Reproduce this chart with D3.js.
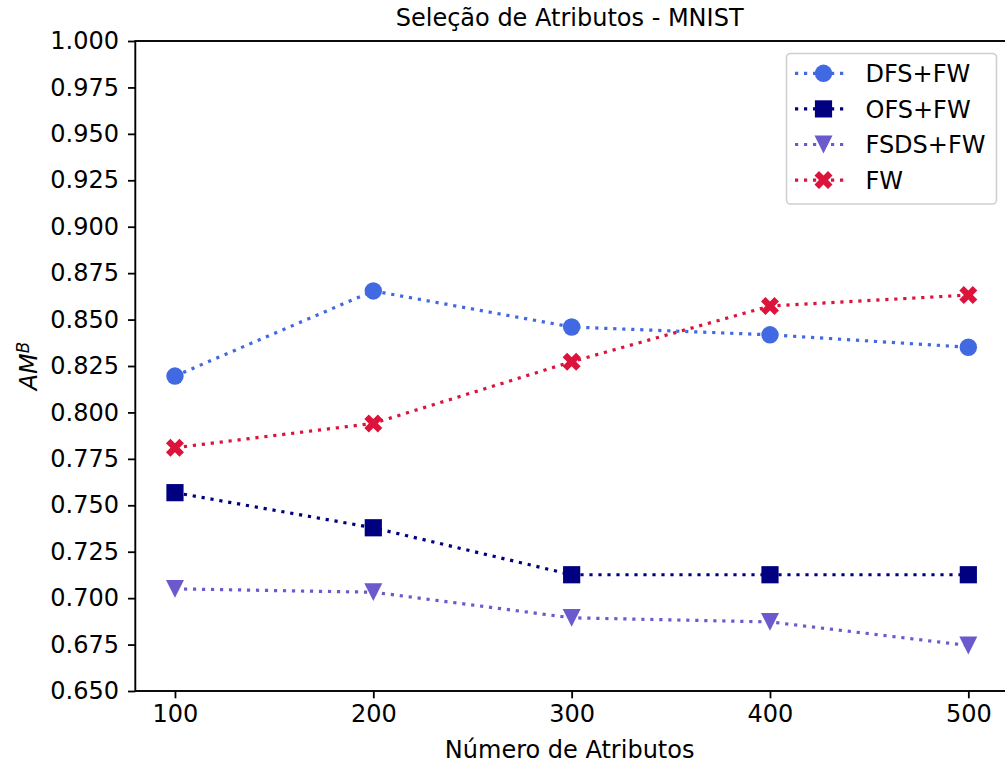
<!DOCTYPE html>
<html>
<head>
<meta charset="utf-8">
<script src="https://cdn.jsdelivr.net/npm/d3@7"></script>
<style>
  html, body { margin: 0; padding: 0; background: #fff; }
  svg { display: block; font-family: "DejaVu Sans", sans-serif; }
</style>
</head>
<body>
<svg id="chart" width="1005" height="769"></svg>
<script>
// Number of selected attributes
const features = [100, 200, 300, 400, 500];
const xTicks = [100, 200, 300, 400, 500];
const yTicks = [0.650, 0.675, 0.700, 0.725, 0.750, 0.775, 0.800, 0.825, 0.850, 0.875, 0.900, 0.925, 0.950, 0.975, 1.000];

// AM^B per method
const dfsFw  = [0.8196, 0.8654, 0.8460, 0.8418, 0.8351];
const ofsFw  = [0.7568, 0.7379, 0.7126, 0.7126, 0.7126];
const fsdsFw = [0.7050, 0.7032, 0.6894, 0.6872, 0.6745];
const fw     = [0.7810, 0.7941, 0.8273, 0.8573, 0.8632];

const seriesNames = ["DFS+FW", "OFS+FW", "FSDS+FW", "FW"];
const seriesColors = ["#4169e1", "#000080", "#6a5acd", "#dc143c"];
const seriesShapes = ["circle", "square", "triangleDown", "x"];
const seriesValues = [dfsFw, ofsFw, fsdsFw, fw];

const svg = d3.select("#chart");
const plot = { left: 135.3, right: 1008, top: 41, bottom: 691 };

const x = d3.scaleLinear().domain([80, 520]).range([plot.left, plot.right]);
const y = d3.scaleLinear().domain([0.65, 1.0]).range([plot.bottom, plot.top]);

const FONT = 24;

// marker paths centred on the origin
function markerPath(shape) {
  if (shape === "circle") return d3.symbol(d3.symbolCircle, Math.PI * 8.7 * 8.7)();
  if (shape === "square") { const h = 8.6; return `M${-h},${-h}H${h}V${h}H${-h}Z`; }
  if (shape === "triangleDown") { const w = 9, hh = 8.9; return `M0,${hh}L${-w},${-hh}L${w},${-hh}Z`; }
  // filled "X"
  const a = 9, t = a / 2;
  const pts = [[-t, -a], [0, -t], [t, -a], [a, -t], [t, 0], [a, t],
               [t, a], [0, t], [-t, a], [-a, t], [-t, 0], [-a, -t]];
  return "M" + pts.map(p => p.join(",")).join("L") + "Z";
}

// axes
const yAxis = d3.axisLeft(y).tickValues(yTicks).tickFormat(d3.format(".3f")).tickSize(7.3).tickPadding(9);
const xAxis = d3.axisBottom(x).tickValues(xTicks).tickFormat(d3.format("d")).tickSize(7.3).tickPadding(7);

const gy = svg.append("g").attr("transform", `translate(${plot.left},0)`).call(yAxis);
const gx = svg.append("g").attr("transform", `translate(0,${plot.bottom})`).call(xAxis);
[gx, gy].forEach(g => {
  g.select(".domain").remove();
  g.selectAll(".tick line").attr("stroke", "#000").attr("stroke-width", 1.8);
  g.selectAll(".tick text").attr("fill", "#000").style("font-size", FONT + "px").style("font-family", "DejaVu Sans");
});

// frame
svg.append("rect")
  .attr("x", plot.left).attr("y", plot.top)
  .attr("width", plot.right - plot.left).attr("height", plot.bottom - plot.top)
  .attr("fill", "none").attr("stroke", "#000").attr("stroke-width", 1.9);

// series
const line = d3.line().x((d, i) => x(features[i])).y(d => y(d));
seriesValues.forEach((vals, s) => {
  const g = svg.append("g");
  g.append("path").datum(vals)
    .attr("d", line)
    .attr("fill", "none")
    .attr("stroke", seriesColors[s])
    .attr("stroke-width", 3.2)
    .attr("stroke-dasharray", "3.2,5.8");
  g.selectAll("path.mk").data(vals).join("path")
    .attr("class", "mk")
    .attr("transform", (d, i) => `translate(${x(features[i])},${y(d)})`)
    .attr("d", markerPath(seriesShapes[s]))
    .attr("fill", seriesColors[s]);
});

// legend
const lg = svg.append("g");
lg.append("rect")
  .attr("x", 786.5).attr("y", 53.5).attr("width", 210).attr("height", 150.5)
  .attr("rx", 4).attr("fill", "#fff").attr("fill-opacity", 0.8)
  .attr("stroke", "#d0d0d0").attr("stroke-width", 1.6);
seriesNames.forEach((name, s) => {
  const cy = 73.3 + s * 35.6;
  lg.append("line")
    .attr("x1", 795).attr("x2", 846).attr("y1", cy).attr("y2", cy)
    .attr("stroke", seriesColors[s]).attr("stroke-width", 3.2)
    .attr("stroke-dasharray", "3.2,5.8");
  lg.append("path")
    .attr("transform", `translate(823.5,${cy})`)
    .attr("d", markerPath(seriesShapes[s]))
    .attr("fill", seriesColors[s]);
  lg.append("text")
    .attr("x", 865.5).attr("y", cy).attr("dy", "0.36em")
    .style("font-size", FONT + "px").attr("fill", "#000")
    .text(name);
});

// title and axis labels
const cx = (plot.left + plot.right) / 2;
svg.append("text")
  .attr("x", cx - 2).attr("y", 26)
  .attr("text-anchor", "middle").style("font-size", FONT + "px")
  .text("Seleção de Atributos - MNIST");

svg.append("text")
  .attr("x", cx - 2).attr("y", 758)
  .attr("text-anchor", "middle").style("font-size", FONT + "px")
  .text("Número de Atributos");

const yl = svg.append("text")
  .attr("transform", `translate(37,${(plot.top + plot.bottom) / 2}) rotate(-90)`)
  .attr("text-anchor", "middle").style("font-size", FONT + "px")
  .style("font-style", "italic");
yl.append("tspan").text("AM");
yl.append("tspan").attr("dy", "-0.45em").style("font-size", (FONT * 0.7) + "px").text("B");
</script>
</body>
</html>
